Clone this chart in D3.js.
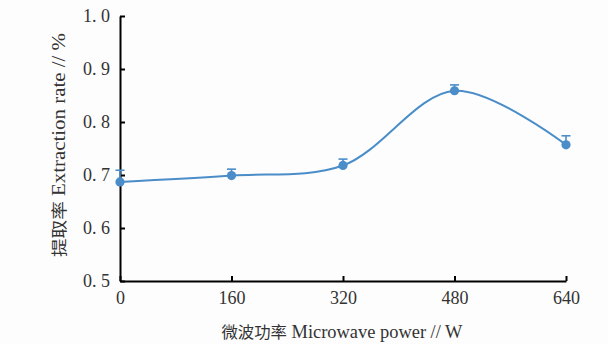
<!DOCTYPE html>
<html>
<head>
<meta charset="utf-8">
<script src="https://cdn.jsdelivr.net/npm/d3@7"></script>
<style>
  html, body { margin: 0; padding: 0; background: #fdfdfd; }
  svg { display: block; }
  .tick text { font-family: "Liberation Serif", serif; font-size: 18px; fill: #333; }
</style>
</head>
<body>
<script>
// Extraction rate versus microwave power
const powers = [0, 160, 320, 480, 640];
const rates = [0.687, 0.699, 0.718, 0.859, 0.757];
const errors = [0.022, 0.012, 0.012, 0.011, 0.017];
const xTicks = [0, 160, 320, 480, 640];
const yTicks = [0.5, 0.6, 0.7, 0.8, 0.9, 1.0];

const W = 608, H = 344;
const margin = { left: 120, right: 42, top: 16, bottom: 63 };
const color = "#4a8dc9";

const svg = d3.select("body").append("svg").attr("width", W).attr("height", H);
svg.append("rect").attr("width", W).attr("height", H).attr("fill", "#fdfdfd");

const x = d3.scaleLinear().domain([0, 640]).range([margin.left, W - margin.right]);
const y = d3.scaleLinear().domain([0.5, 1.0]).range([H - margin.bottom, margin.top]);

// axes with inward ticks
const xAxis = svg.append("g").attr("transform", `translate(0,${y(0.5)})`)
  .call(d3.axisBottom(x).tickValues(xTicks).tickSizeInner(-5).tickSizeOuter(0).tickPadding(14).tickFormat(d3.format("d")));
const yAxis = svg.append("g").attr("transform", `translate(${x(0)},0)`)
  .call(d3.axisLeft(y).tickValues(yTicks).tickSizeInner(-5).tickSizeOuter(0).tickPadding(10)
    .tickFormat(d => d3.format(".1f")(d).replace(".", ". ")));
[xAxis, yAxis].forEach(g => {
  g.select(".domain").attr("stroke", "#000").attr("stroke-width", 2);
  g.selectAll(".tick line").attr("stroke", "#000").attr("stroke-width", 2);
});
xAxis.selectAll(".tick text").attr("dy", "0.5em");

// smoothed line
const line = d3.line().x((d, i) => x(powers[i])).y(d => y(d)).curve(d3.curveCatmullRom.alpha(0.5));
svg.append("path").datum(rates).attr("d", line)
  .attr("fill", "none").attr("stroke", color).attr("stroke-width", 2);

// upper error bars
const eb = svg.append("g").attr("stroke", color).attr("stroke-width", 1.6);
rates.forEach((r, i) => {
  const cx = x(powers[i]);
  eb.append("line").attr("x1", cx).attr("x2", cx).attr("y1", y(r)).attr("y2", y(r + errors[i]));
  eb.append("line").attr("x1", cx - 4.5).attr("x2", cx + 4.5).attr("y1", y(r + errors[i])).attr("y2", y(r + errors[i]));
});

// markers
svg.append("g").selectAll("circle").data(rates).join("circle")
  .attr("cx", (d, i) => x(powers[i])).attr("cy", d => y(d)).attr("r", 4.6).attr("fill", color);

// axis titles
const xt = svg.append("text").attr("x", 342).attr("y", 338).attr("text-anchor", "middle")
  .attr("fill", "#333").attr("textLength", 241).attr("lengthAdjust", "spacingAndGlyphs");
xt.append("tspan").attr("font-family", "'Noto Sans CJK SC', sans-serif").attr("font-size", 16).text("微波功率");
xt.append("tspan").attr("font-family", "'Liberation Serif', serif").attr("font-size", 18).text(" Microwave power // W");

const yt = svg.append("text").attr("transform", "translate(65,145) rotate(-90)").attr("text-anchor", "middle")
  .attr("fill", "#333").attr("textLength", 224).attr("lengthAdjust", "spacingAndGlyphs");
yt.append("tspan").attr("font-family", "'Noto Sans CJK SC', sans-serif").attr("font-size", 16).text("提取率");
yt.append("tspan").attr("font-family", "'Liberation Serif', serif").attr("font-size", 18).text(" Extraction rate // %");
</script>
</body>
</html>
